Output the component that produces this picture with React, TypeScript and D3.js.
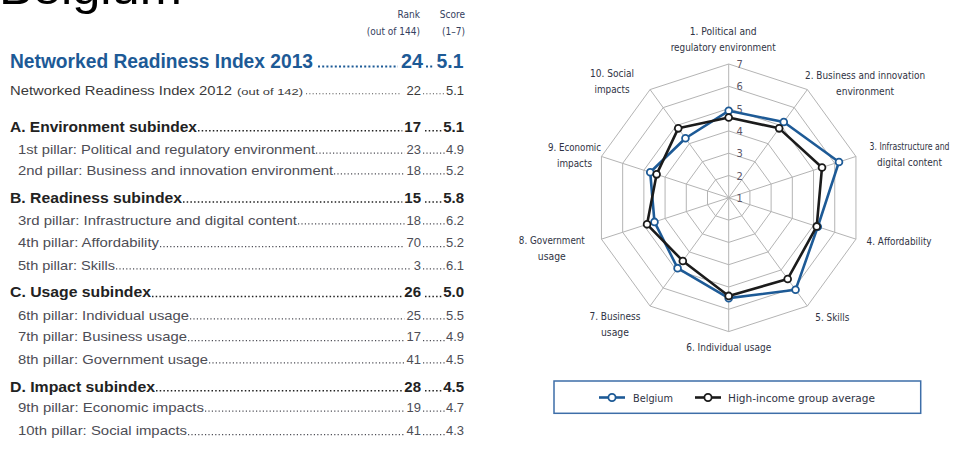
import React from 'react';
import * as d3 from 'd3';

// ---------- data ----------
const countryName = 'Belgium';
const headerRank = ['Rank', '(out of 144)'];
const headerScore = ['Score', '(1–7)'];

const nri2013 = { label: 'Networked Readiness Index 2013', rank: '24', score: '5.1' };
const nri2012 = { label: 'Networked Readiness Index 2012', note: '(out of 142)', rank: '22', score: '5.1' };

const tableLabels = [
  'A. Environment subindex',
  '1st pillar: Political and regulatory environment',
  '2nd pillar: Business and innovation environment',
  'B. Readiness subindex',
  '3rd pillar: Infrastructure and digital content',
  '4th pillar: Affordability',
  '5th pillar: Skills',
  'C. Usage subindex',
  '6th pillar: Individual usage',
  '7th pillar: Business usage',
  '8th pillar: Government usage',
  'D. Impact subindex',
  '9th pillar: Economic impacts',
  '10th pillar: Social impacts',
];
const tableRanks = ['17', '23', '18', '15', '18', '70', '3', '26', '25', '17', '41', '28', '19', '41'];
const tableScores = ['5.1', '4.9', '5.2', '5.8', '6.2', '5.2', '6.1', '5.0', '5.5', '4.9', '4.5', '4.5', '4.7', '4.3'];
const tableIsSubindex = [true, false, false, true, false, false, false, true, false, false, false, true, false, false];

const axisLabelLines = [
  ['1. Political and', 'regulatory environment'],
  ['2. Business and innovation', 'environment'],
  ['3. Infrastructure and', 'digital content'],
  ['4. Affordability'],
  ['5. Skills'],
  ['6. Individual usage'],
  ['7. Business', 'usage'],
  ['8. Government', 'usage'],
  ['9. Economic', 'impacts'],
  ['10. Social', 'impacts'],
];
const belgiumScores = [4.9, 5.2, 6.2, 5.2, 6.1, 5.5, 4.9, 4.5, 4.7, 4.3];
const highIncomeScores = [4.6, 4.85, 5.4, 5.15, 5.5, 5.4, 4.5, 4.85, 4.4, 4.85];
const radarTicks = [1, 2, 3, 4, 5, 6, 7];
const seriesNames = ['Belgium', 'High-income group average'];

// ---------- layout ----------
const W = 971;
const H = 449;
const rowCenters = [126, 149.3, 170, 197.3, 220, 242.7, 265, 291.7, 315, 336.7, 359, 386, 407.3, 430.7];
const labelWidths = [187, 297, 315, 172, 279, 141, 97, 141, 171, 169, 190, 145, 186, 169];
const rankRight = 421;
const scoreRight = 464;

const cx = 728.7;
const cy = 197.8;
const R = 133.8;
// polar placement of axis labels (radius, angle in degrees)
const labelPolar = [
  [158, -2], [178, 50], [186, 76.5], [176, 104.5], [158, 139],
  [150, 180], [170, 222], [184, 254], [160, 285.5], [165, 315],
];
const labelWidthsRadar = [
  [67, 105], [120, 58], [80, 65], [65], [34], [85], [51, 28], [66, 28], [53, 35], [44, 35],
];

const blue = '#1d5a96';
const dark = '#1b1b1b';
const tableFont = "'Liberation Sans', Arial, Helvetica, sans-serif";
const narrowFont = "'Liberation Sans Narrow', 'DejaVu Sans Condensed', 'Liberation Sans', sans-serif";

function Leader({ x1, x2, y, color, w = 1.3 }: { x1: number; x2: number; y: number; color: string; w?: number }) {
  if (x2 <= x1) return null;
  return <line x1={x1} x2={x2} y1={y} y2={y} stroke={color} strokeWidth={w} strokeDasharray={`${w} ${2.2}`} />;
}

export default function App() {
  const rScale = d3.scaleLinear().domain([1, 7]).range([0, R]);
  const n = axisLabelLines.length;
  const ang = (i: number) => (i * 2 * Math.PI) / n;
  const radial = d3
    .lineRadial<number>()
    .angle((_, i) => ang(i))
    .radius((d) => rScale(d))
    .curve(d3.curveLinearClosed);
  const pt = (v: number, i: number) => [cx + rScale(v) * Math.sin(ang(i)), cy - rScale(v) * Math.cos(ang(i))];

  const series = [
    { values: belgiumScores, color: blue },
    { values: highIncomeScores, color: dark },
  ];

  const digitW = (s: string, fs: number) =>
    s.split('').reduce((a, c) => a + (c === '.' ? 0.278 : 0.556), 0) * fs;

  return (
    <svg width={W} height={H} style={{ position: 'absolute', left: 0, top: 0, background: '#fff' }}>
      {/* ---------- title ---------- */}
      <text x={-1} y={4} fontFamily={tableFont} fontSize={46} fill="#000" textLength={183} lengthAdjust="spacingAndGlyphs">
        {countryName}
      </text>

      {/* header */}
      <g fontFamily={narrowFont} fontSize={10} fill="#34405e" textAnchor="end">
        <text x={420} y={18}>{headerRank[0]}</text>
        <text x={420} y={35}>{headerRank[1]}</text>
        <text x={465} y={18}>{headerScore[0]}</text>
        <text x={465} y={35}>{headerScore[1]}</text>
      </g>

      {/* NRI 2013 */}
      <g fontFamily={tableFont} fontWeight="bold" fill={blue}>
        <text x={10} y={68} fontSize={20} textLength={303} lengthAdjust="spacingAndGlyphs">{nri2013.label}</text>
        <Leader x1={318} x2={398} y={66.5} color={blue} w={2} />
        <text x={423} y={68} fontSize={20} textAnchor="end" textLength={22} lengthAdjust="spacingAndGlyphs">{nri2013.rank}</text>
        <Leader x1={426} x2={433} y={66.5} color={blue} w={2} />
        <text x={463.5} y={68} fontSize={20} textAnchor="end" textLength={27} lengthAdjust="spacingAndGlyphs">{nri2013.score}</text>
      </g>

      {/* NRI 2012 */}
      <g fontFamily={tableFont} fill="#3a3a3a">
        <text x={10} y={94.5} fontSize={13} textLength={222} lengthAdjust="spacingAndGlyphs">{nri2012.label}</text>
        <text x={237} y={94.5} fontSize={9.5} textLength={66} lengthAdjust="spacingAndGlyphs">{nri2012.note}</text>
        <Leader x1={306} x2={401} y={93.8} color="#555" w={1.1} />
        <text x={rankRight} y={94.5} fontSize={13} textAnchor="end">{nri2012.rank}</text>
        <Leader x1={423} x2={444} y={93.8} color="#555" w={1.1} />
        <text x={scoreRight} y={94.5} fontSize={13} textAnchor="end">{nri2012.score}</text>
      </g>

      {/* rows */}
      {tableLabels.map((lab, i) => {
        const sub = tableIsSubindex[i];
        const fs = sub ? 15 : 13;
        const y = rowCenters[i] + (sub ? 5.5 : 4.6);
        const x0 = sub ? 10 : 18;
        const color = sub ? '#222' : '#4d4d55';
        const rankW = digitW(tableRanks[i], fs);
        const scoreW = digitW(tableScores[i], fs);
        return (
          <g key={i} fontFamily={tableFont} fontWeight={sub ? 'bold' : 'normal'} fill={color} fontSize={fs}>
            <text x={x0} y={y} textLength={labelWidths[i]} lengthAdjust="spacingAndGlyphs">{lab}</text>
            <Leader x1={x0 + labelWidths[i] + 1} x2={rankRight - rankW - 2} y={y - 0.7} color={color} w={sub ? 1.5 : 1.2} />
            <text x={rankRight} y={y} textAnchor="end">{tableRanks[i]}</text>
            <Leader x1={rankRight + (sub ? 4 : 2)} x2={scoreRight - scoreW - 1} y={y - 0.7} color={color} w={sub ? 1.5 : 1.2} />
            <text x={scoreRight} y={y} textAnchor="end">{tableScores[i]}</text>
          </g>
        );
      })}

      {/* ---------- radar ---------- */}
      <g transform={`translate(${cx},${cy})`}>
        {radarTicks.slice(1).map((t) => (
          <path key={t} d={radial(new Array(n).fill(t)) || ''} fill="none" stroke="#b4b4b4" strokeWidth={1} />
        ))}
      </g>
      {axisLabelLines.map((_, i) => {
        const [x, y] = pt(7, i);
        return <line key={i} x1={cx} y1={cy} x2={x} y2={y} stroke="#b4b4b4" strokeWidth={1} />;
      })}
      {radarTicks.map((t) => (
        <text key={t} x={cx + 11} y={cy - rScale(t) + 4} fontFamily={narrowFont} fontSize={11} fill="#5a5566" textAnchor="middle">
          {t}
        </text>
      ))}
      <g transform={`translate(${cx},${cy})`}>
        {series.map((s, k) => (
          <path key={k} d={radial(s.values) || ''} fill="none" stroke={s.color} strokeWidth={2.6} strokeLinejoin="round" />
        ))}
      </g>
      {series.map((s, k) => (
        <g key={k}>
          {s.values.map((v, i) => {
            const [x, y] = pt(v, i);
            return <circle key={i} cx={x} cy={y} r={3.4} fill="#fff" stroke={s.color} strokeWidth={1.8} />;
          })}
        </g>
      ))}

      {/* axis labels */}
      {axisLabelLines.map((lines, i) => {
        const [lr, deg] = labelPolar[i];
        const a = (deg * Math.PI) / 180;
        const x = cx + lr * Math.sin(a);
        const y = cy - lr * Math.cos(a);
        const lh = 16;
        const y0 = y - ((lines.length - 1) * lh) / 2 + 3.5;
        return (
          <g key={i} fontFamily={narrowFont} fontSize={10.5} fill="#2f3344" textAnchor="middle">
            {lines.map((ln, j) => (
              <text key={j} x={x} y={y0 + j * lh} textLength={labelWidthsRadar[i][j]} lengthAdjust="spacingAndGlyphs">
                {ln}
              </text>
            ))}
          </g>
        );
      })}

      {/* legend */}
      <rect x={554} y={381} width={366.7} height={32.3} fill="#fff" stroke="#3d6ea8" strokeWidth={1.5} />
      {series.map((s, k) => {
        const lx = k === 0 ? 599 : 695;
        const tx = k === 0 ? 633 : 728;
        const tw = k === 0 ? 40 : 147;
        return (
          <g key={k}>
            <line x1={lx} x2={lx + 26} y1={397.5} y2={397.5} stroke={s.color} strokeWidth={2.6} />
            <circle cx={lx + 13} cy={397.5} r={3.6} fill="#fff" stroke={s.color} strokeWidth={1.8} />
            <text x={tx} y={401.5} fontFamily={narrowFont} fontSize={11} fill="#2f3344" textLength={tw} lengthAdjust="spacingAndGlyphs">
              {seriesNames[k]}
            </text>
          </g>
        );
      })}
    </svg>
  );
}
